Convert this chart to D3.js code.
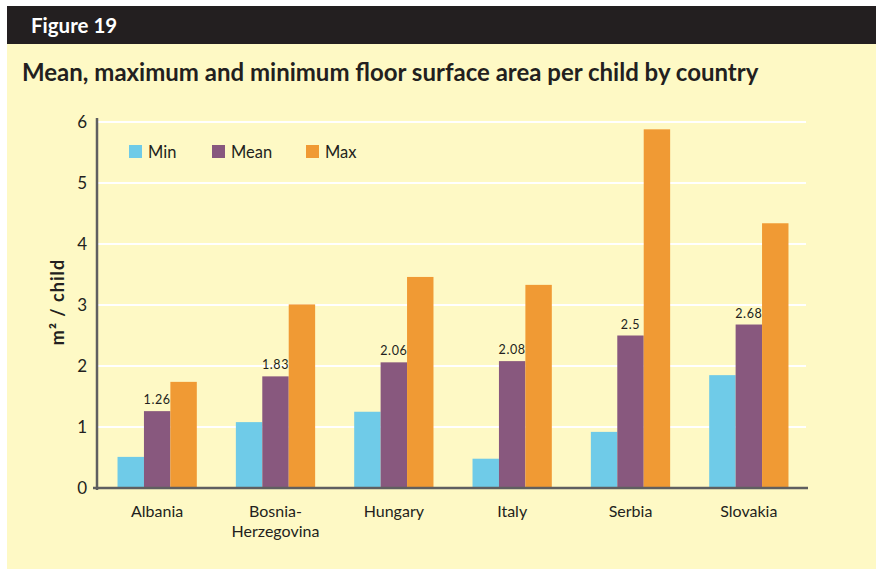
<!DOCTYPE html>
<html>
<head>
<meta charset="utf-8">
<script src="https://cdn.jsdelivr.net/npm/d3@7/dist/d3.min.js"></script>
<style>
  html, body { margin: 0; padding: 0; background: #ffffff; }
  svg { display: block; }
  text { font-family: Lato, "Open Sans", "DejaVu Sans", sans-serif; }
</style>
</head>
<body>
<svg id="chart" width="876" height="569"></svg>
<script>
// Floor surface area per child (m²) by country
const countries = ["Albania", "Bosnia-Herzegovina", "Hungary", "Italy", "Serbia", "Slovakia"];
const countryLines = [["Albania"], ["Bosnia-", "Herzegovina"], ["Hungary"], ["Italy"], ["Serbia"], ["Slovakia"]];
const series = ["Min", "Mean", "Max"];
const minValues  = [0.51, 1.08, 1.25, 0.48, 0.92, 1.85];
const meanValues = [1.26, 1.83, 2.06, 2.08, 2.5, 2.68];
const maxValues  = [1.74, 3.01, 3.46, 3.33, 5.88, 4.34];
const yTicks = [0, 1, 2, 3, 4, 5, 6];
const colors = { Min: "#6fcbe8", Mean: "#88587e", Max: "#f09a34" };

const rows = countries.map((c, i) => ({
  country: c, lines: countryLines[i],
  Min: minValues[i], Mean: meanValues[i], Max: maxValues[i]
}));

const svg = d3.select("#chart");

// Panel background and header strip
svg.append("rect").attr("x", 7).attr("y", 6).attr("width", 869).attr("height", 563).attr("fill", "#fef9c5");
svg.append("rect").attr("x", 7).attr("y", 6).attr("width", 869).attr("height", 38).attr("fill", "#231f20");
svg.append("text").attr("x", 31).attr("y", 33)
  .attr("fill", "#ffffff").attr("font-size", 20.5).attr("font-weight", 700)
  .text("Figure 19");
svg.append("text").attr("x", 22).attr("y", 81)
  .attr("fill", "#231f20").attr("font-size", 24).attr("font-weight", 700)
  .text("Mean, maximum and minimum floor surface area per child by country");

// Scales
const x0 = d3.scaleBand().domain(countries).range([98, 808]).paddingInner(0.33).paddingOuter(0.165);
const x1 = d3.scaleBand().domain(series).range([0, x0.bandwidth()]);
const y = d3.scaleLinear().domain([0, 6]).range([488, 122]);

// Gridlines
svg.append("g").selectAll("line").data(yTicks.filter(d => d > 0)).join("line")
  .attr("x1", 97).attr("x2", 806)
  .attr("y1", d => y(d)).attr("y2", d => y(d))
  .attr("stroke", "#ffffff").attr("stroke-width", 2);

// Bars
const groups = svg.append("g").selectAll("g").data(rows).join("g")
  .attr("transform", d => `translate(${x0(d.country)},0)`);
groups.selectAll("rect").data(d => series.map(s => ({ key: s, value: d[s] }))).join("rect")
  .attr("x", d => x1(d.key))
  .attr("y", d => y(d.value))
  .attr("width", x1.bandwidth())
  .attr("height", d => y(0) - y(d.value))
  .attr("fill", d => colors[d.key]);

// Mean value labels
groups.append("text")
  .attr("x", x1("Mean") + x1.bandwidth() / 2)
  .attr("y", d => y(d.Mean) - 7)
  .attr("text-anchor", "middle")
  .attr("font-size", 12.5).attr("fill", "#231f20").attr("letter-spacing", 0.6)
  .text(d => String(d.Mean));

// Y axis
const yAxis = svg.append("g").attr("transform", "translate(97,0)")
  .call(d3.axisLeft(y).tickValues(yTicks).tickSize(0).tickPadding(10).tickFormat(d3.format("d")));
yAxis.select(".domain").attr("stroke", "#5f5f60").attr("stroke-width", 2.5)
  .attr("d", `M0,${y(6) - 4}V${y(0) + 2}`);
yAxis.selectAll("text").attr("font-size", 17).attr("fill", "#231f20")
  .attr("font-family", "Lato, 'Open Sans', sans-serif").attr("dy", "0.35em");

// X axis baseline
svg.append("line").attr("x1", 93).attr("x2", 808).attr("y1", y(0)).attr("y2", y(0))
  .attr("stroke", "#5f5f60").attr("stroke-width", 2.5);

// Category labels, one text per line
const labelLines = rows.flatMap(d => d.lines.map((t, i) => ({ country: d.country, text: t, line: i })));
svg.append("g").selectAll("text").data(labelLines).join("text")
  .attr("x", d => x0(d.country) + x0.bandwidth() / 2)
  .attr("y", d => 517 + d.line * 20)
  .attr("text-anchor", "middle").attr("font-size", 16).attr("fill", "#231f20")
  .text(d => d.text);

// Y axis title
svg.append("text")
  .attr("transform", "translate(64,302) rotate(-90)")
  .attr("text-anchor", "middle").attr("font-size", 18).attr("font-weight", 700)
  .attr("letter-spacing", 1)
  .attr("fill", "#231f20")
  .text("m² / child");

// Legend
const legend = svg.append("g").selectAll("g").data(series).join("g")
  .attr("transform", (d, i) => `translate(${[129, 212, 306][i]},145)`);
legend.append("rect").attr("width", 13).attr("height", 13).attr("fill", d => colors[d]);
legend.append("text").attr("x", 19).attr("y", 13)
  .attr("font-size", 16.5).attr("fill", "#231f20").text(d => d);
</script>
</body>
</html>
